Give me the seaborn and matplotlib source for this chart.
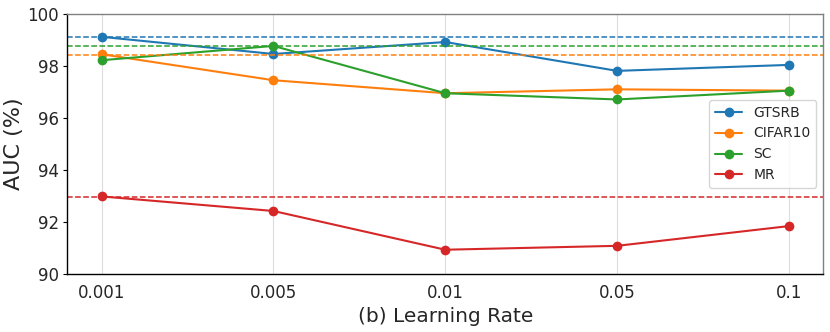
import pandas as pd
import matplotlib.pyplot as plt
import seaborn as sns

sns.set_theme(style="white")
plt.rcParams['font.family'] = ['DejaVu Sans']

learning_rates = ["0.001", "0.005", "0.01", "0.05", "0.1"]
gtsrb = [99.12, 98.46, 98.92, 97.81, 98.04]
cifar10 = [98.45, 97.45, 96.95, 97.10, 97.05]
sc = [98.22, 98.77, 96.95, 96.71, 97.05]
mr = [92.98, 92.42, 90.93, 91.08, 91.84]
datasets = ["GTSRB", "CIFAR10", "SC", "MR"]
baselines = [99.10, 98.42, 98.75, 92.97]

colors = ["#1f77b4", "#ff7f0e", "#2ca02c", "#d62728"]

rows = []
for name, vals in zip(datasets, [gtsrb, cifar10, sc, mr]):
    for i, v in enumerate(vals):
        rows.append({"pos": i, "lr": learning_rates[i], "dataset": name, "auc": v})
df = pd.DataFrame(rows)

fig, ax = plt.subplots(figsize=(8.3, 3.32), dpi=100)

sns.lineplot(data=df, x="pos", y="auc", hue="dataset", palette=colors,
             marker="o", markersize=7, markeredgewidth=0, linewidth=1.5, ax=ax)

# dashed reference lines
for b, c in zip(baselines, colors):
    ax.axhline(b, color=c, linestyle="--", linewidth=1.1)

ax.set_xticks(range(len(learning_rates)))
ax.set_xticklabels(learning_rates)
ax.set_xlim(-0.2, 4.2)
ax.set_ylim(90, 100)
ax.set_yticks([90, 92, 94, 96, 98, 100])
ax.tick_params(axis="both", labelsize=12, pad=3)
ax.tick_params(axis="y", left=True, length=3, width=0.8, color="black")
ax.tick_params(axis="x", length=0, pad=7)
ax.grid(axis="x", color="#dddddd", linewidth=0.8)
ax.set_axisbelow(True)

ax.set_xlabel("(b) Learning Rate", fontsize=14.5)
ax.set_ylabel("AUC (%)", fontsize=16, labelpad=2)

for s in ["left", "bottom"]:
    ax.spines[s].set_color("black")
for s in ["top", "right"]:
    ax.spines[s].set_color("#808080")
for s in ax.spines.values():
    s.set_linewidth(1.0)

leg = ax.legend(loc="center right", fontsize=10, frameon=True, title=None)
leg.get_frame().set_edgecolor("#cccccc")

plt.subplots_adjust(left=0.081, right=0.992, top=0.958, bottom=0.175)
plt.savefig("out.png", dpi=100)
